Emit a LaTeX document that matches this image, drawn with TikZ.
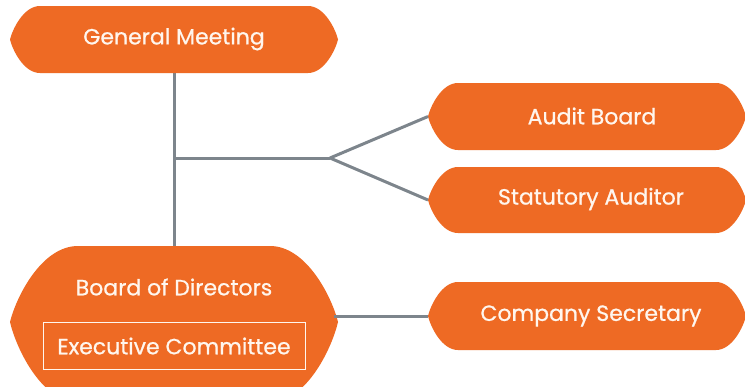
\documentclass[tikz,border=0pt]{standalone}
\usepackage{fontspec}
\setmainfont{Poppins}
\newfontfamily\lblfont{Poppins}[FakeBold=0.8]
\definecolor{orng}{HTML}{EE6A24}
\definecolor{lgray}{HTML}{7D858C}
\definecolor{txt}{HTML}{FFF6EE}
\tikzset{
  lbl/.style={text=txt,font=\lblfont\fontsize{22}{26}\selectfont},
  conn/.style={draw=lgray,line width=3pt},
}
\newcommand{\hexbox}[7]{% name, x1, x2, top, bottom, d, ymid
  \pgfmathsetmacro{\ym}{#7}
  \pgfmathsetmacro{\hu}{#7-#4}
  \pgfmathsetmacro{\hd}{#5-#7}
  \pgfmathsetmacro{\xa}{#2+#6}
  \pgfmathsetmacro{\xb}{#3-#6}
  \pgfmathsetmacro{\ca}{#2+0.45*#6}
  \pgfmathsetmacro{\cb}{#3-0.45*#6}
  \pgfmathsetmacro{\da}{#2+0.08*#6}
  \pgfmathsetmacro{\db}{#3-0.08*#6}
  \pgfmathsetmacro{\yu}{\ym-0.3*\hu}
  \pgfmathsetmacro{\yd}{\ym+0.3*\hd}
  \fill[orng] (\xa,#4) -- (\xb,#4)
     .. controls (\cb,#4) and (\db,\yu) .. (#3,\ym)
     .. controls (\db,\yd) and (\cb,#5) .. (\xb,#5)
     -- (\xa,#5)
     .. controls (\ca,#5) and (\da,\yd) .. (#2,\ym)
     .. controls (\da,\yu) and (\ca,#4) .. (\xa,#4) -- cycle;
  \coordinate (#1-w) at (#2,\ym);
  \coordinate (#1-e) at (#3,\ym);
}
\begin{document}
\begin{tikzpicture}[x=1pt,y=-1pt]
\useasboundingbox (0,0) rectangle (745,386);
\fill[white] (0,0) rectangle (745,386);
\begin{scope}
\clip (0,0) rectangle (745,386);
% connectors
\coordinate (gmb) at (174,72);
\coordinate (bdt) at (174,247);
\coordinate (mid) at (174,158);
\coordinate (fork) at (330,158);
\draw[conn] (gmb) -- (bdt);
\draw[conn] (mid) -- (fork);
% boxes
\hexbox{gm}{10}{338}{6}{73}{30}{39.5}
\hexbox{ab}{428}{746}{83}{150}{30}{116.5}
\hexbox{sa}{428}{746}{167}{233}{30}{200}
\hexbox{cs}{428}{746}{282}{350}{30}{316}
\hexbox{bd}{10}{338}{246}{402}{68}{322}
\draw[conn] (fork) -- (ab-w);
\draw[conn] (fork) -- (sa-w);
\coordinate (bde) at (334,316);
\draw[conn] (bde) -- (cs-w);
\end{scope}
\node[lbl] (tgm) at (174,39) {General Meeting};
\node[lbl] (tab) at (592,116) {Audit Board};
\node[lbl] (tsa) at (591,199) {Statutory Auditor};
\node[lbl] (tcs) at (591,316) {Company Secretary};
\node[lbl] (tbd) at (174,287) {Board of Directors};
\node[lbl,draw=txt,line width=1pt,minimum width=262pt,minimum height=47pt] (tec) at (174,346) {Executive Committee};
\end{tikzpicture}
\end{document}
